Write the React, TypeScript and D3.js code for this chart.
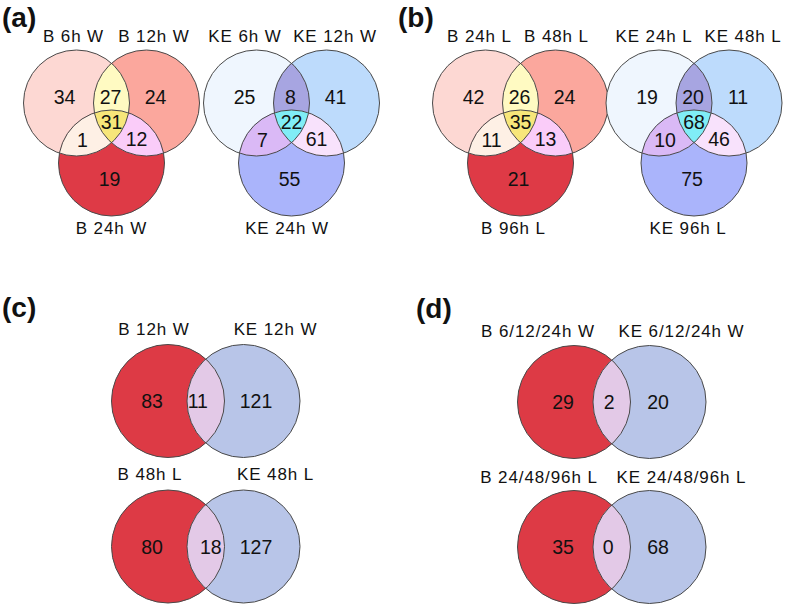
import React from "react";
import * as d3 from "d3";

// ---------- data ----------
// 3-set venn value order: [A only, B only, C only, AB, AC, BC, ABC]
const regionKeys = ["A", "B", "C", "AB", "AC", "BC", "ABC"];

const aLabelsB = ["B 6h W", "B 12h W", "B 24h W"];
const aValuesB = [34, 24, 19, 27, 1, 12, 31];
const aLabelsKE = ["KE 6h W", "KE 12h W", "KE 24h W"];
const aValuesKE = [25, 41, 55, 8, 7, 61, 22];

const bLabelsB = ["B 24h L", "B 48h L", "B 96h L"];
const bValuesB = [42, 24, 21, 26, 11, 13, 35];
const bLabelsKE = ["KE 24h L", "KE 48h L", "KE 96h L"];
const bValuesKE = [19, 11, 75, 20, 10, 46, 68];

// 2-set venn value order: [B only, shared, KE only]
const cLabelsTop = ["B 12h W", "KE 12h W"];
const cValuesTop = [83, 11, 121];
const cLabelsBottom = ["B 48h L", "KE 48h L"];
const cValuesBottom = [80, 18, 127];

const dLabelsTop = ["B 6/12/24h W", "KE 6/12/24h W"];
const dValuesTop = [29, 2, 20];
const dLabelsBottom = ["B 24/48/96h L", "KE 24/48/96h L"];
const dValuesBottom = [35, 0, 68];

const panelLetters = ["(a)", "(b)", "(c)", "(d)"];

// ---------- styles ----------
const redPalette = d3
  .scaleOrdinal<string, string>()
  .domain(regionKeys)
  .range(["#FDD8D3", "#FBA79D", "#DE3A46", "#FFFAC2", "#FEF0E5", "#FACCF9", "#F7E67A"]);
const bluePalette = d3
  .scaleOrdinal<string, string>()
  .domain(regionKeys)
  .range(["#EFF6FE", "#BDDBFC", "#AAB4FB", "#A7A5E1", "#DAB9F6", "#F8E2FC", "#80EDF6"]);

const twoColors = { red: "#DD3A45", blue: "#B8C5E8", lens: "#E3C9E7" };
const FONT = "'Liberation Sans', Arial, Helvetica, sans-serif";
const STROKE = "#4a4a4a";
const LABEL_SIZE = 17;
const LABEL_SPACING = 0.9;
const NUM_SIZE = 19.5;

const R3 = 53;
const SIDE3 = 70;
const DROP3 = 60;
const R2 = 56.5;
const D2 = 75.5;

// offsets of number labels relative to the venn centre
const numOffsets3: Record<string, [number, number]> = {
  A: [-47, -26],
  AB: [-1, -26],
  B: [44, -26],
  ABC: [0, -1],
  AC: [-29, 17],
  BC: [25, 16],
  C: [-2, 56],
};

type V3Props = {
  id: string;
  cx: number;
  topY: number;
  labels: string[];
  values: number[];
  palette: d3.ScaleOrdinal<string, string>;
  labelDx: [number, number, number];
};

function Label({ x, y, children }: { x: number; y: number; children: React.ReactNode }) {
  return (
    <text
      x={x}
      y={y}
      textAnchor="middle"
      fontFamily={FONT}
      fontSize={LABEL_SIZE}
      letterSpacing={LABEL_SPACING}
      fill="#111"
    >
      {children}
    </text>
  );
}

function Venn3({ id, cx, topY, labels, values, palette, labelDx }: V3Props) {
  const A = { x: cx - SIDE3 / 2, y: topY };
  const B = { x: cx + SIDE3 / 2, y: topY };
  const C = { x: cx, y: topY + DROP3 };
  const circ = (p: { x: number; y: number }, fill: string) => (
    <circle cx={p.x} cy={p.y} r={R3} fill={fill} />
  );
  const baseY = topY + 20;
  return (
    <g>
      <defs>
        <clipPath id={`${id}-a`}>
          <circle cx={A.x} cy={A.y} r={R3} />
        </clipPath>
        <clipPath id={`${id}-b`}>
          <circle cx={B.x} cy={B.y} r={R3} />
        </clipPath>
      </defs>
      {circ(A, palette("A"))}
      {circ(B, palette("B"))}
      {circ(C, palette("C"))}
      <g clipPath={`url(#${id}-a)`}>{circ(B, palette("AB"))}</g>
      <g clipPath={`url(#${id}-a)`}>{circ(C, palette("AC"))}</g>
      <g clipPath={`url(#${id}-b)`}>{circ(C, palette("BC"))}</g>
      <g clipPath={`url(#${id}-a)`}>
        <g clipPath={`url(#${id}-b)`}>{circ(C, palette("ABC"))}</g>
      </g>
      {[A, B, C].map((p, i) => (
        <circle key={i} cx={p.x} cy={p.y} r={R3} fill="none" stroke={STROKE} strokeWidth={1} />
      ))}
      {regionKeys.map((k, i) => (
        <text
          key={k}
          x={cx + numOffsets3[k][0]}
          y={baseY + numOffsets3[k][1]}
          textAnchor="middle"
          dominantBaseline="central"
          fontFamily={FONT}
          fontSize={NUM_SIZE}
          fill="#111"
        >
          {values[i]}
        </text>
      ))}
      <Label x={A.x + labelDx[0]} y={topY - 61}>{labels[0]}</Label>
      <Label x={B.x + labelDx[1]} y={topY - 61}>{labels[1]}</Label>
      <Label x={C.x + labelDx[2]} y={topY + 131}>{labels[2]}</Label>
    </g>
  );
}

type V2Props = {
  id: string;
  cx: number; // centre of the red circle
  cy: number;
  labelY: number;
  labels: string[];
  values: number[];
  redLabelDx: number;
  numDx: [number, number, number];
};

function Venn2({ id, cx, cy, labelY, labels, values, redLabelDx, numDx }: V2Props) {
  const bx = cx + D2;
  const mid = (cx + bx) / 2;
  const xs = [cx + numDx[0], mid + numDx[1], bx + numDx[2]];
  return (
    <g>
      <defs>
        <clipPath id={`${id}-r`}>
          <circle cx={cx} cy={cy} r={R2} />
        </clipPath>
      </defs>
      <circle cx={cx} cy={cy} r={R2} fill={twoColors.red} />
      <circle cx={bx} cy={cy} r={R2} fill={twoColors.blue} />
      <g clipPath={`url(#${id}-r)`}>
        <circle cx={bx} cy={cy} r={R2} fill={twoColors.lens} />
      </g>
      <circle cx={cx} cy={cy} r={R2} fill="none" stroke={STROKE} strokeWidth={1} />
      <circle cx={bx} cy={cy} r={R2} fill="none" stroke={STROKE} strokeWidth={1} />
      {values.map((v, i) => (
        <text
          key={i}
          x={xs[i]}
          y={cy}
          textAnchor="middle"
          dominantBaseline="central"
          fontFamily={FONT}
          fontSize={NUM_SIZE}
          fill="#111"
        >
          {v}
        </text>
      ))}
      <Label x={cx + redLabelDx} y={labelY}>{labels[0]}</Label>
      <Label x={bx + 32} y={labelY}>{labels[1]}</Label>
    </g>
  );
}

export default function App() {
  const letterPos: [number, number][] = [
    [2, 27],
    [398, 27],
    [2, 317],
    [416, 318],
  ];
  return (
    <svg
      width={787}
      height={606}
      viewBox="0 0 787 606"
      style={{ position: "absolute", left: 0, top: 0, background: "#fff" }}
    >
      <rect width={787} height={606} fill="#fff" />
      {panelLetters.map((l, i) => (
        <text
          key={l}
          x={letterPos[i][0]}
          y={letterPos[i][1]}
          fontFamily={FONT}
          fontWeight="bold"
          fontSize={28}
          fill="#111"
        >
          {l}
        </text>
      ))}
      <Venn3 id="aB" cx={111.5} topY={103} labels={aLabelsB} values={aValuesB} palette={redPalette} labelDx={[-3, 7.5, 0]} />
      <Venn3 id="aK" cx={291.5} topY={103} labels={aLabelsKE} values={aValuesKE} palette={bluePalette} labelDx={[-11.5, 8.5, -4.5]} />
      <Venn3 id="bB" cx={520.5} topY={103} labels={bLabelsB} values={bValuesB} palette={redPalette} labelDx={[-6, 1, -7]} />
      <Venn3 id="bK" cx={694} topY={103} labels={bLabelsKE} values={bValuesKE} palette={bluePalette} labelDx={[-5, 14, -6]} />

      <Venn2 id="cT" cx={168} cy={401} labelY={335} labels={cLabelsTop} values={cValuesTop} redLabelDx={-14} numDx={[-16, -8, 12.5]} />
      <Venn2 id="cB" cx={168} cy={546.5} labelY={480} labels={cLabelsBottom} values={cValuesBottom} redLabelDx={-18} numDx={[-16, 5, 12.5]} />
      <Venn2 id="dT" cx={574} cy={402} labelY={336.5} labels={dLabelsTop} values={dValuesTop} redLabelDx={-36} numDx={[-11, -2.5, 8.5]} />
      <Venn2 id="dB" cx={574} cy={547} labelY={482.5} labels={dLabelsBottom} values={dValuesBottom} redLabelDx={-35} numDx={[-11, -3.5, 8.5]} />
    </svg>
  );
}
